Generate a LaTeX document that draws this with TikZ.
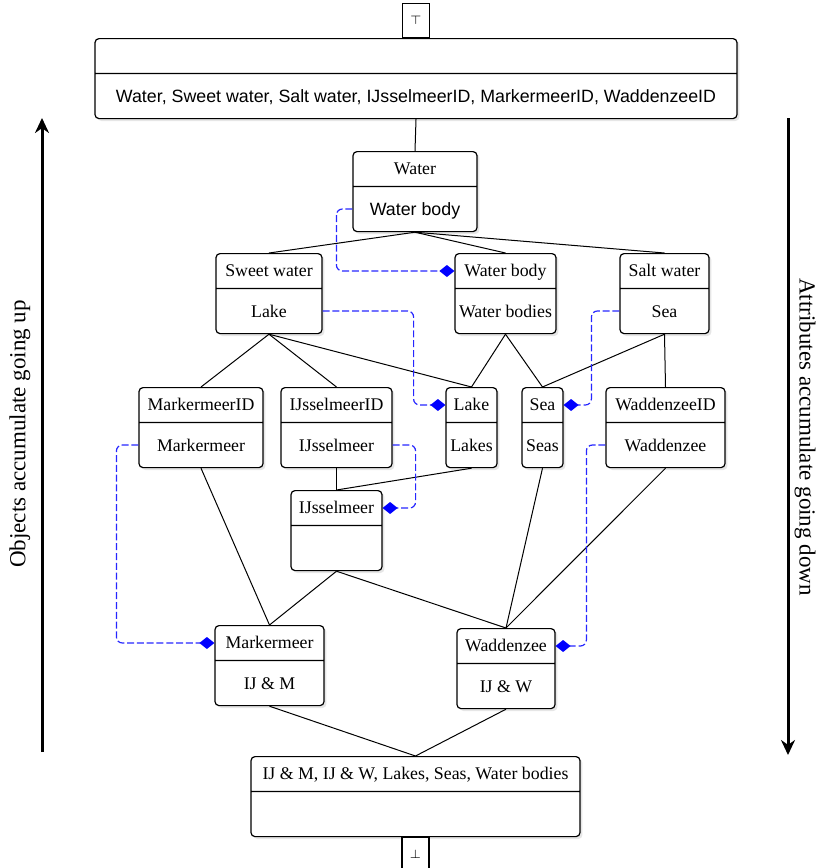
\documentclass[tikz,border=0pt]{standalone}
\usepackage{fontspec}
\setmainfont{Liberation Serif}
\newfontfamily\arialfont{Liberation Sans}
\usetikzlibrary{positioning, shapes.multipart, shadows, arrows.meta}

\tikzset{
  cls/.style={rectangle split, rectangle split parts=2, draw, line width=0.6pt,
    rounded corners=2pt, fill=white, inner xsep=0pt, inner ysep=0pt, anchor=north,
    drop shadow={shadow xshift=1.2pt, shadow yshift=-1.2pt, opacity=0.2},
    font=\fontsize{8.9}{10.7}\selectfont},
  elt/.style={draw, line width=0.6pt, fill=white, inner sep=0pt,
    minimum width=13.5pt, minimum height=17pt, font=\arialfont\fontsize{6}{7}\selectfont},
  edge/.style={line width=0.5pt},
  link/.style={blue!85!white, dash pattern=on 3.5pt off 1.4pt, line width=0.6pt, rounded corners=3pt,
    -{Diamond[length=7.5pt,width=6pt,blue]}},
  side/.style={line width=1.5pt, -{Stealth[length=7.5pt,width=7pt]}}
}
\newcommand{\ttl}[1]{\rule[-5.6pt]{0pt}{16.8pt}#1}
\newcommand{\bdy}[1]{\rule[-8pt]{0pt}{22pt}#1}

\begin{document}
\begin{tikzpicture}[x=0.5pt, y=-0.5pt]
    \useasboundingbox (0,0) rectangle (818,868);

    % Lattice top and bottom
    \node[cls, minimum width=321pt] (topcls) at (416,38)
      {\ttl{} \nodepart{two} \bdy{\arialfont Water, Sweet water, Salt water, IJsselmeerID, MarkermeerID, WaddenzeeID}};
    \node[elt, anchor=south] (topelt) at (topcls.north) {$\top$};
    \node[cls, minimum width=164.5pt] (botcls) at (415.5,756)
      {\ttl{IJ \& M, IJ \& W, Lakes, Seas, Water bodies} \nodepart{two} \bdy{}};
    \node[elt, anchor=north] (botelt) at (botcls.south) {$\bot$};

    % Concepts
    \node[cls, minimum width=62pt] (water) at (415,151) {\ttl{Water} \nodepart{two} \bdy{\arialfont Water body}};
    \node[cls, minimum width=53pt] (sweet) at (269,253) {\ttl{Sweet water} \nodepart{two} \bdy{Lake}};
    \node[cls, minimum width=50.5pt] (wbody) at (505.5,253) {\ttl{Water body} \nodepart{two} \bdy{Water bodies}};
    \node[cls, minimum width=44.5pt] (salt) at (664.5,253) {\ttl{Salt water} \nodepart{two} \bdy{Sea}};
    \node[cls, minimum width=62pt] (mmid) at (201,387) {\ttl{MarkermeerID} \nodepart{two} \bdy{Markermeer}};
    \node[cls, minimum width=55.5pt] (ijid) at (336.5,387) {\ttl{IJsselmeerID} \nodepart{two} \bdy{IJsselmeer}};
    \node[cls, minimum width=25.5pt] (lake) at (471.5,387) {\ttl{Lake} \nodepart{two} \bdy{Lakes}};
    \node[cls, minimum width=20.5pt] (sea) at (542.5,387) {\ttl{Sea} \nodepart{two} \bdy{Seas}};
    \node[cls, minimum width=59.5pt] (wzid) at (665.5,387) {\ttl{WaddenzeeID} \nodepart{two} \bdy{Waddenzee}};
    \node[cls, minimum width=45.5pt] (ijssel) at (336.5,490) {\ttl{IJsselmeer} \nodepart{two} \bdy{}};
    \node[cls, minimum width=54.5pt] (mm) at (269.5,625) {\ttl{Markermeer} \nodepart{two} \bdy{IJ \& M}};
    \node[cls, minimum width=49pt] (wz) at (506,628) {\ttl{Waddenzee} \nodepart{two} \bdy{IJ \& W}};

    % Lattice edges
    \draw[edge] (topcls.south) -- (water.north);
    \draw[edge] (water.south) -- (sweet.north);
    \draw[edge] (water.south) -- (wbody.north);
    \draw[edge] (water.south) -- (salt.north);
    \draw[edge] (sweet.south) -- (mmid.north);
    \draw[edge] (sweet.south) -- (ijid.north);
    \draw[edge] (sweet.south) -- (lake.north);
    \draw[edge] (wbody.south) -- (lake.north);
    \draw[edge] (wbody.south) -- (sea.north);
    \draw[edge] (salt.south) -- (sea.north);
    \draw[edge] (salt.south) -- (wzid.north);
    \draw[edge] (ijid.south) -- (ijssel.north);
    \draw[edge] (lake.south) -- (ijssel.north);
    \draw[edge] (mmid.south) -- (mm.north);
    \draw[edge] (ijssel.south) -- (mm.north);
    \draw[edge] (ijssel.south) -- (wz.north);
    \draw[edge] (sea.south) -- (wz.north);
    \draw[edge] (wzid.south) -- (wz.north);
    \draw[edge] (mm.south) -- (botcls.north);
    \draw[edge] (wz.south) -- (botcls.north);

    % Attribute links
    \draw[link] (water.two west) -- ++(-16,0) |- (wbody.text west);
    \draw[link] (sweet.two east) -- ++(91,0) |- (lake.text west);
    \draw[link] (salt.two west) -- ++(-28,0) |- (sea.text east);
    \draw[link] (mmid.two west) -- ++(-22,0) |- (mm.text west);
    \draw[link] (ijid.two east) -- ++(23,0) |- (ijssel.text east);
    \draw[link] (wzid.two west) -- ++(-19,0) |- (wz.text east);

    % Side arrows
    \coordinate (lefttop) at (42,118);
    \coordinate (leftbot) at (42,752);
    \coordinate (righttop) at (788,118);
    \coordinate (rightbot) at (788,755);
    \draw[side] (leftbot) -- (lefttop);
    \draw[side] (righttop) -- (rightbot);
    \node[rotate=90, font=\fontsize{11.5}{13}\selectfont] (uplabel) at (20,434) {Objects accumulate going up};
    \node[rotate=-90, font=\fontsize{11.5}{13}\selectfont] (downlabel) at (805,437) {Attributes accumulate going down};
\end{tikzpicture}
\end{document}
